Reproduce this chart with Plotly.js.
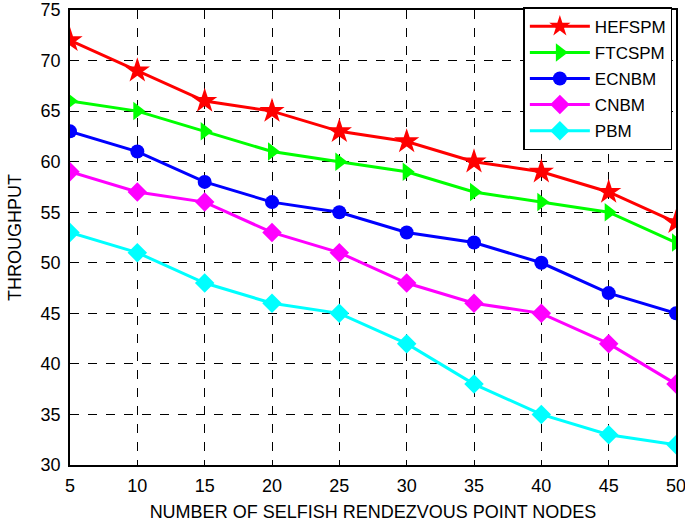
<!DOCTYPE html>
<html>
<head>
<script src="https://cdn.plot.ly/plotly-3.0.1.min.js"></script>
<style>body{margin:0;padding:0;background:#fff}</style>
</head>
<body>
<div id="chart" style="width:685px;height:523px"></div>
<script>
var nodes = [5, 10, 15, 20, 25, 30, 35, 40, 45, 50];
var hefspm = [72, 69, 66, 65, 63, 62, 60, 59, 57, 54];
var ftcspm = [66, 65, 63, 61, 60, 59, 57, 56, 55, 52];
var ecnbm = [63, 61, 58, 56, 55, 53, 52, 50, 47, 45];
var cnbm = [59, 57, 56, 53, 51, 48, 46, 45, 42, 38];
var pbm = [53, 51, 48, 46, 45, 42, 38, 35, 33, 32];

function line(name, y, color, symbol, size) {
  return {
    x: nodes, y: y, name: name, legendgroup: name, type: "scatter", mode: "lines+markers",
    line: { color: color, width: 3 },
    marker: { color: color, symbol: symbol, size: size }
  };
}

var data = [
  line("HEFSPM", hefspm, "#ff0000", "star", 19),
  line("FTCSPM", ftcspm, "#00ff00", "triangle-right", 16),
  line("ECNBM", ecnbm, "#0000ff", "circle", 14),
  line("CNBM", cnbm, "#ff00ff", "diamond", 15),
  line("PBM", pbm, "#00ffff", "diamond", 15)
];

var axisStyle = {
  showline: true, linecolor: "#000", linewidth: 1.5, mirror: true,
  showgrid: true, gridcolor: "#000", gridwidth: 1, griddash: "dash",
  zeroline: false, ticks: "", tickfont: { size: 18, color: "#000" },
  ticklabeloverflow: "allow"
};

var layout = {
  width: 685, height: 523,
  margin: { l: 70, r: 9, t: 10, b: 58, autoexpand: false },
  font: { family: "Liberation Sans, Arial, sans-serif", color: "#000" },
  paper_bgcolor: "#fff", plot_bgcolor: "#fff",
  xaxis: Object.assign({}, axisStyle, {
    range: [5, 50], dtick: 5, tick0: 5, ticklabelstandoff: 4,
    title: { text: "NUMBER OF SELFISH RENDEZVOUS POINT NODES", font: { size: 18 }, standoff: 10 }
  }),
  yaxis: Object.assign({}, axisStyle, {
    range: [30, 75], dtick: 5, ticklabelstandoff: 4,
    title: { text: "THROUGHPUT", font: { size: 18 }, standoff: 14 }
  }),
  legend: {
    x: 0.994, y: 1.006, xanchor: "right", yanchor: "top",
    bgcolor: "#fff", bordercolor: "#000", borderwidth: 1.5,
    font: { size: 17 }, itemwidth: 60, tracegroupgap: 1
  },
  showlegend: true
};

Plotly.newPlot("chart", data, layout, { displayModeBar: false });
</script>
</body>
</html>
